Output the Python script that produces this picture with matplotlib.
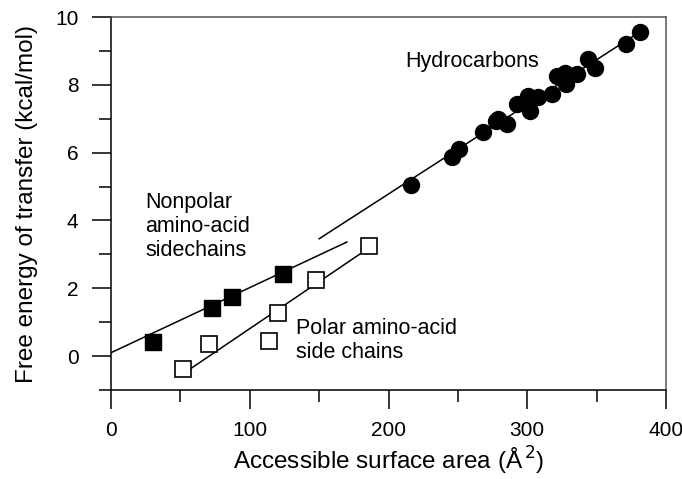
import matplotlib.pyplot as plt
import numpy as np
from matplotlib.ticker import MultipleLocator

plt.rcParams['font.family'] = ['Liberation Sans', 'DejaVu Sans']

# hydrocarbons (filled circles)
hydro_area = [216.2, 246.0, 250.8, 268.3, 277.3, 279.1, 285.7, 292.4, 300.8, 302.0,
              308.0, 317.6, 321.2, 327.2, 327.9, 335.6, 344.0, 348.8, 371.2, 381.3]
hydro_dg = [5.06, 5.88, 6.12, 6.62, 6.94, 6.99, 6.84, 7.43, 7.68, 7.24,
            7.63, 7.72, 8.26, 8.36, 8.02, 8.31, 8.75, 8.51, 9.20, 9.57]

# nonpolar amino-acid side chains (filled squares)
nonpolar_area = [30.0, 72.8, 87.2, 124.2]
nonpolar_dg = [0.42, 1.42, 1.73, 2.43]

# polar amino-acid side chains (open squares)
polar_area = [51.6, 70.9, 113.6, 120.6, 147.7, 185.7]
polar_dg = [-0.38, 0.35, 0.45, 1.26, 2.24, 3.26]

# fitted lines: slope, intercept, x range
hydro_fit = [0.0264, -0.50]
hydro_range = [150, 381]
nonpolar_fit = [0.0192, 0.10]
nonpolar_range = [0, 170]
polar_fit = [0.0277, -1.96]
polar_range = [50.5, 184.3]

fig = plt.figure(figsize=(6.82, 4.79), dpi=100)
ax = fig.add_axes([0.1628, 0.1858, 0.8137, 0.7787])

for fit, rng in [(hydro_fit, hydro_range), (nonpolar_fit, nonpolar_range), (polar_fit, polar_range)]:
	xs = np.array(rng)
	ax.plot(xs, np.polyval(fit, xs), '-k', lw=1.1, zorder=2)

ax.plot(hydro_area, hydro_dg, 'o', color='black', ms=11.5, zorder=3)
ax.plot(nonpolar_area, nonpolar_dg, 's', color='black', ms=11, zorder=3)
ax.plot(polar_area, polar_dg, 's', mfc='white', mec='black', mew=1.2, ms=11, zorder=3)

ax.text(212, 8.7, "Hydrocarbons", fontsize=15.5, va='center', ha='left')
ax.text(24.5, 3.82, "Nonpolar\namino-acid\nsidechains", fontsize=15.5, va='center', ha='left')
ax.text(133, 0.47, "Polar amino-acid\nside chains", fontsize=15.5, va='center', ha='left')

ax.set_xlim(0, 400)
ax.set_ylim(-1, 10)
ax.xaxis.set_major_locator(MultipleLocator(100))
ax.xaxis.set_minor_locator(MultipleLocator(50))
ax.yaxis.set_major_locator(MultipleLocator(2))
ax.yaxis.set_minor_locator(MultipleLocator(1))
ax.tick_params(which='major', direction='out', length=13.5, width=1.1, labelsize=15)
ax.tick_params(which='minor', direction='out', length=8.5, width=1.1)
ax.tick_params(axis='x', which='major', pad=9)
ax.tick_params(axis='y', which='major', pad=10)

for side in ['left', 'bottom']:
	ax.spines[side].set_linewidth(1.1)
for side in ['top', 'right']:
	ax.spines[side].set_linewidth(1.1)
	ax.spines[side].set_color('#555555')

ax.set_xlabel("Accessible surface area (Å$^{\\,2}$)", fontsize=17.5, labelpad=3)
ax.set_ylabel("Free energy of transfer (kcal/mol)", fontsize=17.5, labelpad=12)

plt.savefig("out.png", dpi=100)
